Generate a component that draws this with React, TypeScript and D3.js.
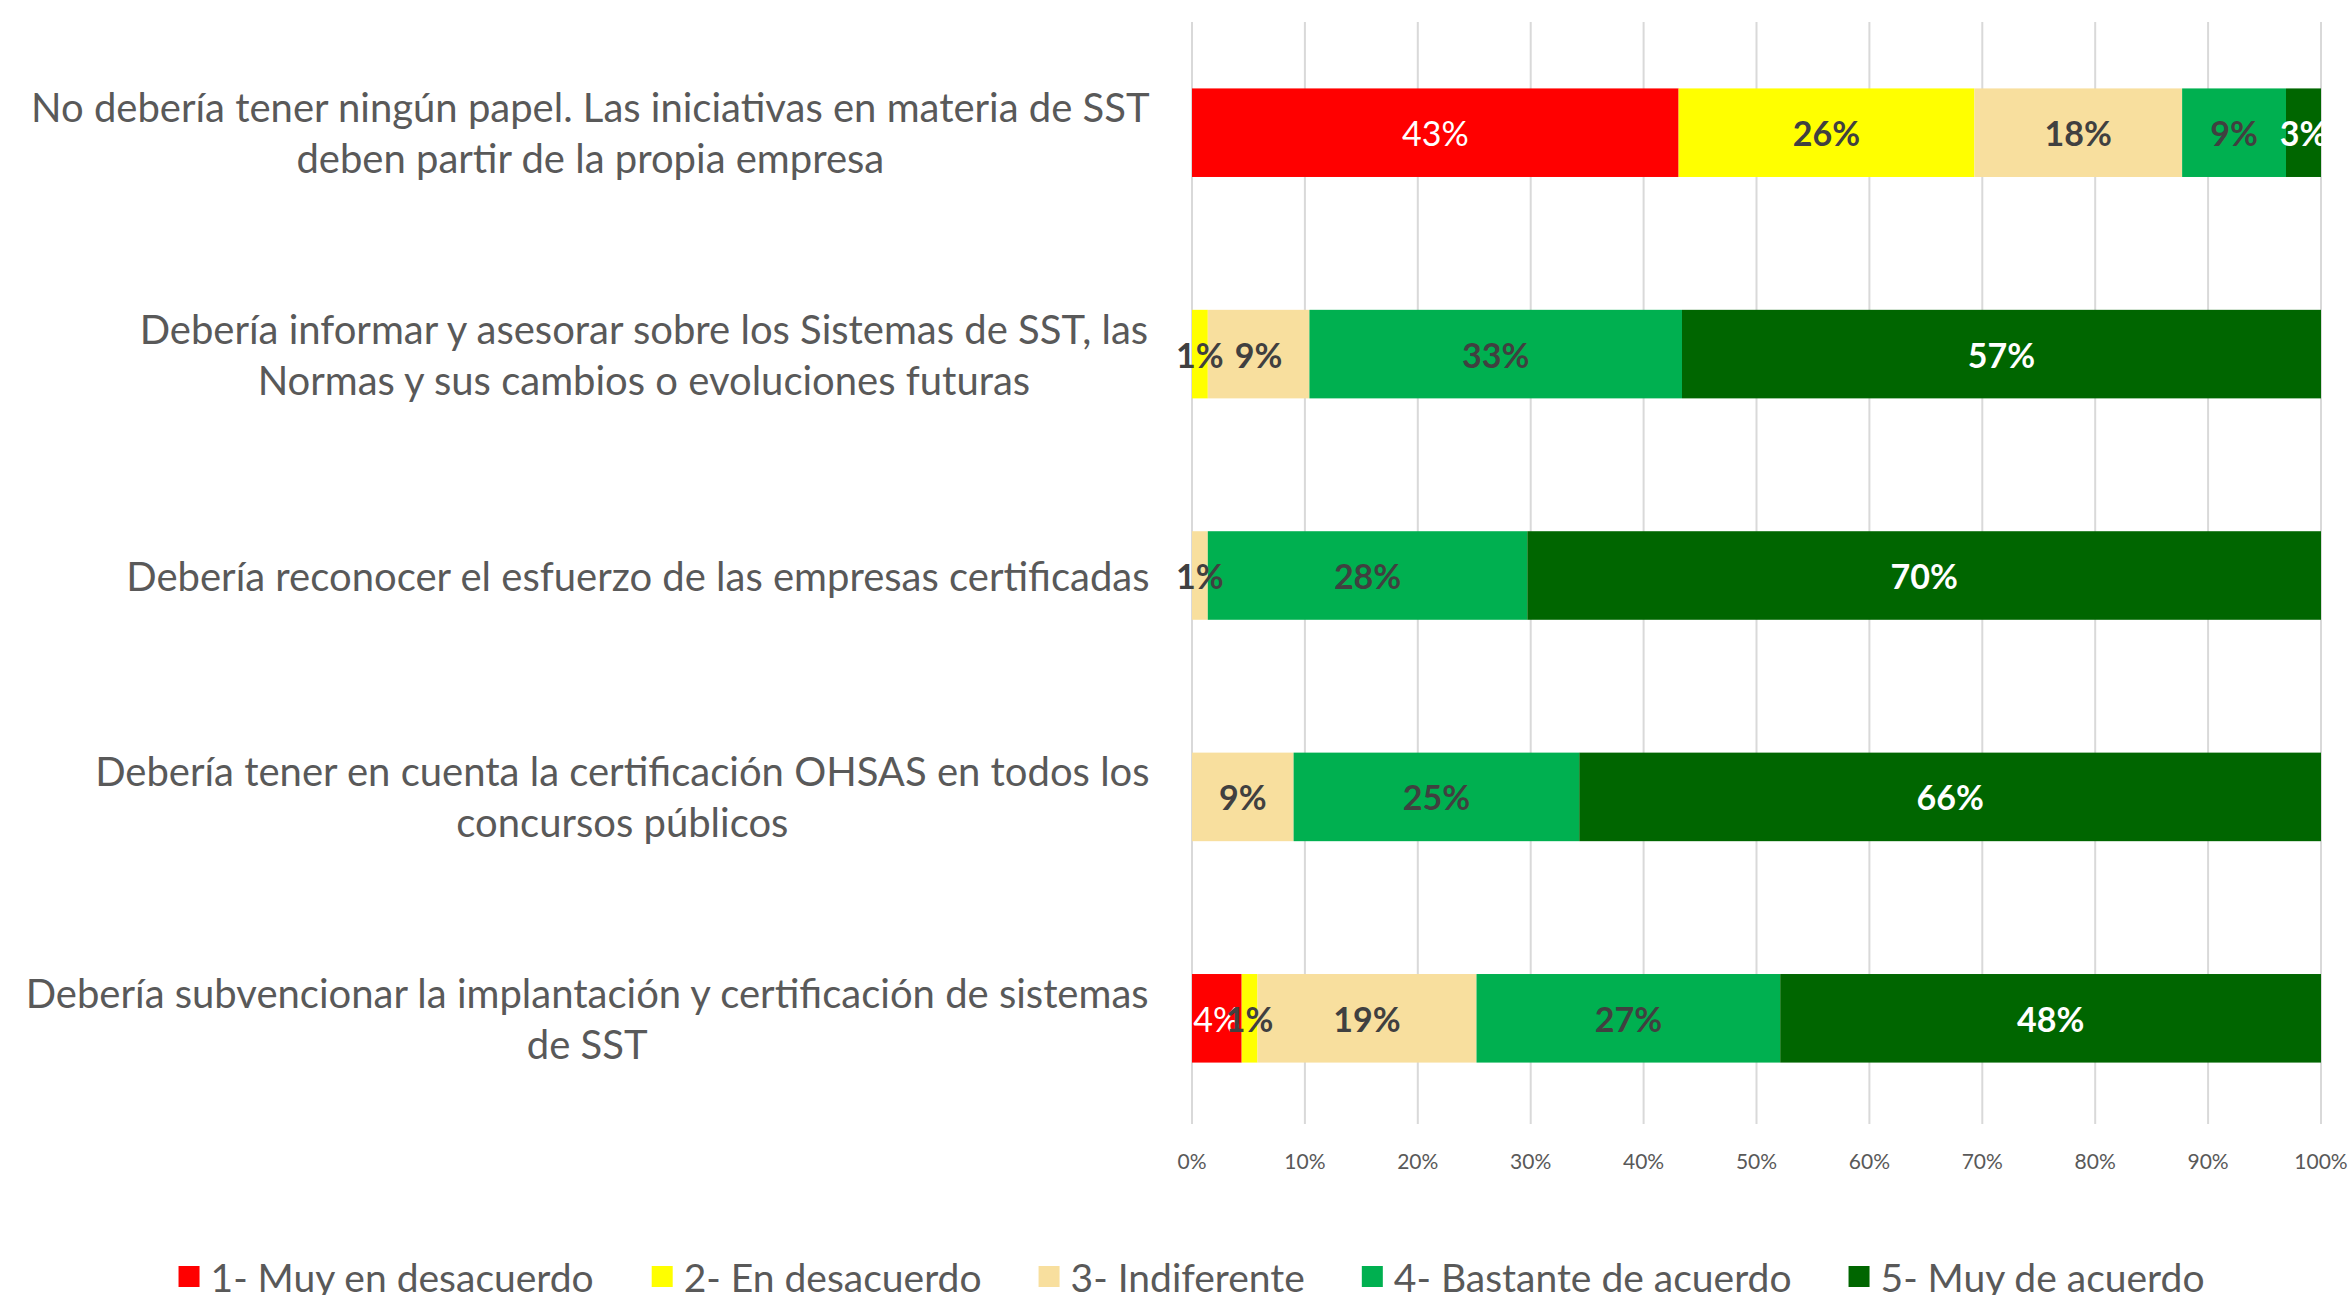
import React from "react";
import * as d3 from "d3";

const categories = [
  "No debería tener ningún papel. Las iniciativas en materia de SST\ndeben partir de la propia empresa",
  "Debería informar y asesorar sobre los Sistemas de SST, las\nNormas y sus cambios o evoluciones futuras",
  "Debería reconocer el esfuerzo de las empresas certificadas",
  "Debería tener en cuenta la certificación OHSAS en todos los\nconcursos públicos",
  "Debería subvencionar la implantación y certificación de sistemas\nde SST",
];
const seriesNames = [
  "1- Muy en desacuerdo",
  "2- En desacuerdo",
  "3- Indiferente",
  "4- Bastante de acuerdo",
  "5- Muy de acuerdo",
];
const muyDesacuerdo = [43.1, 0, 0, 0, 4.4];
const desacuerdo = [26.2, 1.4, 0, 0, 1.4];
const indiferente = [18.4, 9.0, 1.4, 9.0, 19.4];
const bastante = [9.2, 33.0, 28.3, 25.3, 26.9];
const muyAcuerdo = [3.1, 56.6, 70.3, 65.7, 47.9];
const xTicks = [0, 10, 20, 30, 40, 50, 60, 70, 80, 90, 100];

const colors = ["#FF0000", "#FFFF00", "#F8DF9E", "#00B050", "#006600"];
const labelColors = ["#FFFFFF", "#404040", "#404040", "#404040", "#FFFFFF"];
const labelWeights = ["normal", "bold", "bold", "bold", "bold"];

const W = 2349;
const H = 1295;
const FONT = "Lato, 'Open Sans', sans-serif";

function measure(text: string, size: number, weight = "normal") {
  const c = document.createElement("canvas").getContext("2d")!;
  c.font = `${weight} ${size}px Lato`;
  return c.measureText(text).width;
}

export default function App() {
  const seriesArrays = [muyDesacuerdo, desacuerdo, indiferente, bastante, muyAcuerdo];
  const rows = categories.map((c, i) => {
    const r: any = { cat: c };
    seriesNames.forEach((s, j) => (r[s] = seriesArrays[j][i]));
    return r;
  });
  const stack = d3.stack<any>().keys(seriesNames)(rows);

  const x = d3.scaleLinear().domain([0, 100]).range([1192, 2321]);
  const y = d3
    .scaleBand<string>()
    .domain(categories)
    .range([22, 1129])
    .paddingInner(0.6)
    .paddingOuter(0.3);

  const catSize = 40;
  const labelRight = 1150;

  // legend layout
  const legSize = 39;
  const sq = 21;
  const sqGap = 11;
  const itemGap = 57;
  const widths = seriesNames.map((s) => measure(s, legSize));
  const total =
    widths.reduce((a, b) => a + b, 0) + seriesNames.length * (sq + sqGap) + (seriesNames.length - 1) * itemGap;
  let lx = 1192 - total / 2;
  const legendItems = seriesNames.map((s, i) => {
    const item = { s, x: lx, color: colors[i] };
    lx += sq + sqGap + widths[i] + itemGap;
    return item;
  });

  return (
    <svg
      width={W}
      height={H}
      style={{ position: "absolute", left: 0, top: 0, display: "block", background: "#fff" }}
      fontFamily={FONT}
    >
      {/* gridlines */}
      {xTicks.map((t) => (
        <line key={t} x1={x(t)} x2={x(t)} y1={22} y2={1124} stroke="#D9D9D9" strokeWidth={2} />
      ))}
      {/* axis labels */}
      {xTicks.map((t) => (
        <text key={"l" + t} x={x(t)} y={1160} textAnchor="middle" dominantBaseline="central" fontSize={21} fill="#595959">
          {t}%
        </text>
      ))}
      {/* bars */}
      {stack.map((layer, j) => (
        <g key={layer.key} fill={colors[j]}>
          {layer.map((d, i) => {
            const v = d[1] - d[0];
            if (v <= 0) return null;
            return (
              <rect
                key={i}
                x={x(d[0])}
                width={x(d[1]) - x(d[0])}
                y={y(categories[i])!}
                height={y.bandwidth()}
              />
            );
          })}
        </g>
      ))}
      {/* value labels */}
      {stack.map((layer, j) => (
        <g key={"v" + layer.key}>
          {layer.map((d, i) => {
            const v = seriesArrays[j][i];
            if (v <= 0) return null;
            return (
              <text
                key={i}
                x={(x(d[0]) + x(d[1])) / 2}
                y={y(categories[i])! + y.bandwidth() / 2}
                textAnchor="middle"
                dominantBaseline="central"
                fontSize={34}
                fontWeight={labelWeights[j]}
                fill={labelColors[j]}
              >
                {Math.round(v)}%
              </text>
            );
          })}
        </g>
      ))}
      {/* category labels */}
      {categories.map((c) => {
        const lines = c.split("\n");
        const maxW = Math.max(...lines.map((l) => measure(l, catSize)));
        const cx = labelRight - maxW / 2;
        const cy = y(c)! + y.bandwidth() / 2;
        const lh = 51;
        return (
          <text key={c} textAnchor="middle" fontSize={catSize} fill="#595959">
            {lines.map((l, k) => (
              <tspan key={k} x={cx} y={cy + (k - (lines.length - 1) / 2) * lh} dominantBaseline="central">
                {l}
              </tspan>
            ))}
          </text>
        );
      })}
      {/* legend */}
      {legendItems.map((it) => (
        <g key={it.s}>
          <rect x={it.x} y={1266} width={sq} height={sq} fill={it.color} />
          <text x={it.x + sq + sqGap} y={1277} dominantBaseline="central" fontSize={legSize} fill="#595959">
            {it.s}
          </text>
        </g>
      ))}
    </svg>
  );
}
